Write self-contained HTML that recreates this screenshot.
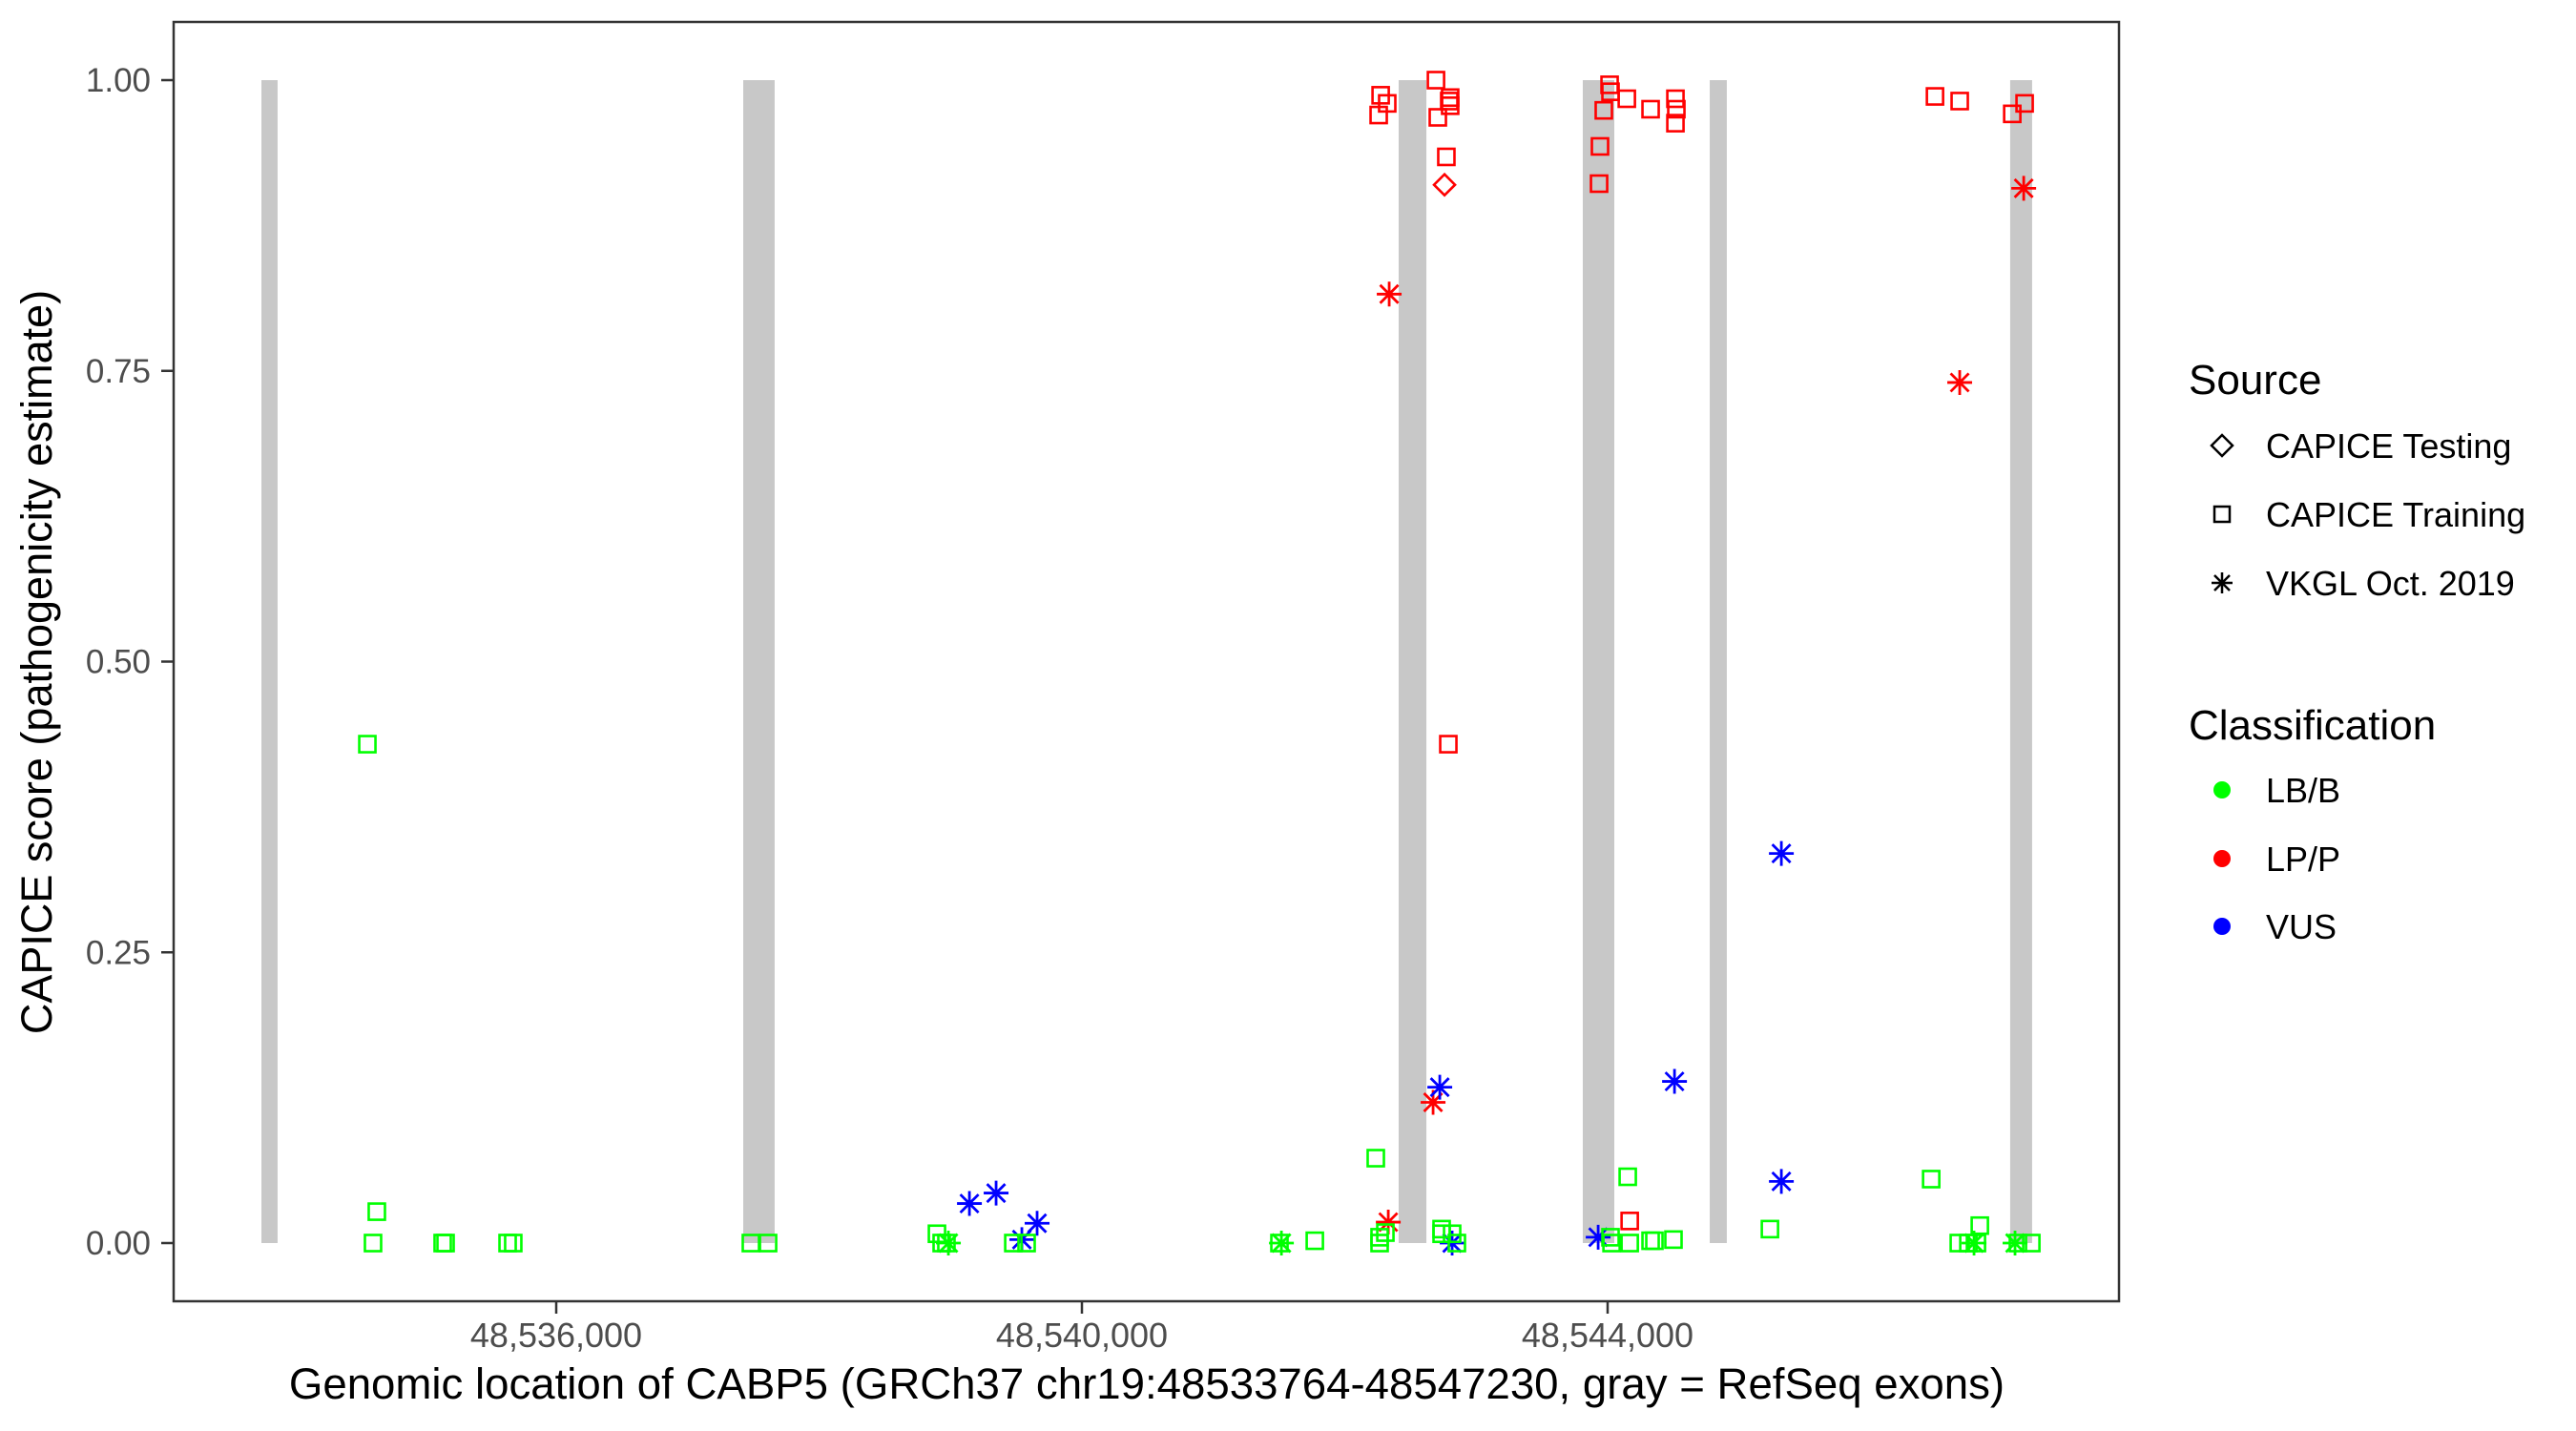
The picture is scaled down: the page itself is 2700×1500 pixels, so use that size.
<!DOCTYPE html>
<html><head><meta charset="utf-8"><style>
html,body{margin:0;padding:0;background:#fff;}
svg{display:block;font-family:"Liberation Sans",Arial,sans-serif;}
</style></head><body>
<svg id="chart" width="2700" height="1500" viewBox="0 0 2700 1500">
<rect x="0" y="0" width="2700" height="1500" fill="#fff"/>
<g id="exons"></g>
<g id="points"></g>
<rect x="182" y="23" width="2039" height="1341" fill="none" stroke="#333" stroke-width="2.5"/>
<g id="yaxis"></g>
<g id="xaxis"></g>
<text x="1202" y="1466" text-anchor="middle" font-size="45.6" fill="#000">Genomic location of CABP5 (GRCh37 chr19:48533764-48547230, gray = RefSeq exons)</text>
<text transform="translate(54,694) rotate(-90)" text-anchor="middle" font-size="45" fill="#000">CAPICE score (pathogenicity estimate)</text>
<g>
<text x="2294" y="413" font-size="44" fill="#000">Source</text>
<g>
<path d="M2329 456 L2340 467 L2329 478 L2318 467 Z" fill="none" stroke="#000" stroke-width="2.5"/>
<text x="2375" y="480" font-size="36" fill="#000">CAPICE Testing</text></g>
<g>
<rect x="2321" y="531" width="16" height="16" fill="none" stroke="#000" stroke-width="2.5"/>
<text x="2375" y="552" font-size="36" fill="#000">CAPICE Training</text></g>
<g>
<path d="M2318 611 H2340 M2329 600 V622 M2321 603 L2337 619 M2337 603 L2321 619" stroke="#000" stroke-width="2.5"/>
<text x="2375" y="624" font-size="36" fill="#000">VKGL Oct. 2019</text></g>
<text x="2294" y="775" font-size="44" fill="#000">Classification</text>
<g><circle cx="2329" cy="828" r="9" fill="#00ff00"/><text x="2375" y="841" font-size="36" fill="#000">LB/B</text></g>
<g><circle cx="2329" cy="900" r="9" fill="#ff0000"/><text x="2375" y="913" font-size="36" fill="#000">LP/P</text></g>
<g><circle cx="2329" cy="971" r="9" fill="#0000ff"/><text x="2375" y="984" font-size="36" fill="#000">VUS</text></g>
</g>
</svg>
<script>
const exonStarts = [48533757, 48537423, 48542410, 48543811, 48544777, 48547063];
const exonEnds   = [48533880, 48537662, 48542621, 48544051, 48544907, 48547230];
const xTicks = [48536000, 48540000, 48544000];
const xTickLabels = ["48,536,000", "48,540,000", "48,544,000"];
const yTicks = [0, 0.25, 0.5, 0.75, 1];
const yTickLabels = ["0.00", "0.25", "0.50", "0.75", "1.00"];
// Variant positions, CAPICE scores, source (S=training,T=testing,V=VKGL), class (G=LB/B,R=LP/P,B=VUS)
const positions = [
48534563,48534635,48534606,48535136,48535158,48535630,48535673,48537481,48537612,48538897,48538933,48538969,48538984,48539144,48539347,48539543,48539659,48539478,48539579,48541503,48541518,48541772,
48542273,48542258,48542323,48542694,48542708,48542795,48542802,48542802,48542773,48542788,48542759,48542338,48542672,48542331,48542723,48542817,48542236,48542265,48542265,48542309,48542737,48542737,48542817,48542853,
48544015,48544022,48543971,48543942,48543935,48544146,48544327,48544516,48544523,48544516,48544168,48543928,48544509,48545322,48545322,48544153,48544030,48544022,48544168,48544327,48544356,48544501,48545235,
48546491,48546679,48547079,48547173,48546679,48547166,48546462,48546832,48546672,48546745,48546810,48546788,48547100,48547122,48547224];
const scores = [
0.429,0.027,0,0,0,0,0,0,0,0.008,0,0,0,0.034,0.043,0.003,0.017,0,0,0,0,0.002,
0.987,0.970,0.980,1.0,0.968,0.982,0.978,0.985,0.934,0.429,0.910,0.816,0.121,0.018,0.134,0,0.073,0.005,0,0.009,0.008,0.012,0.008,0,
0.996,0.990,0.974,0.943,0.911,0.984,0.975,0.984,0.975,0.963,0.019,0.005,0.139,0.335,0.053,0.057,0,0.005,0,0.002,0.002,0.003,0.012,
0.986,0.982,0.971,0.980,0.740,0.907,0.055,0.015,0,0,0,0,0,0,0];
const sources = ("SSSSSSSSSSSSVVVVVSSSVS" + "SSSSSSSSSSTVVVVVSSSSSSSS" + "SSSSSSSSSSSVVVVSSSSSSSS" + "SSSSVVSSSSSVVSS").split("");
const classes = ("GGGGGGGGGGGGGBBBBGGGGG" + "RRRRRRRRRRRRRRBBGGGGGGGG" + "RRRRRRRRRRRBBBBGGGGGGGG" + "RRRRRRGGGGGGGGG").split("");
</script>
<script>
const NS="http://www.w3.org/2000/svg";
const X0=583, XS=551/4000, Y0=1303, YS=1219;
function xs(g){return X0+(g-48536000)*XS;}
function ys(v){return Y0-v*YS;}
function mk(tag,attrs,parent){const e=document.createElementNS(NS,tag);for(const k in attrs)e.setAttribute(k,attrs[k]);parent.appendChild(e);return e;}
const ex=document.getElementById('exons');
exonStarts.forEach((s,i)=>{
  const r=mk('rect',{x:xs(s),y:ys(1),width:xs(exonEnds[i])-xs(s),height:ys(0)-ys(1),fill:'#c8c8c8'},ex);
  
  
});
const ya=document.getElementById('yaxis');
yTicks.forEach((t,i)=>{
  const y=ys(t);
  const l=mk('line',{x1:169,x2:182,y1:y,y2:y,stroke:'#333','stroke-width':2.5},ya);
  
  
  const tx=mk('text',{x:158,y:y+12,'text-anchor':'end','font-size':35,fill:'#4d4d4d'},ya);
  tx.textContent=yTickLabels[i];
  
  
});
const xa=document.getElementById('xaxis');
xTicks.forEach((t,i)=>{
  const x=xs(t);
  const l=mk('line',{x1:x,x2:x,y1:1364,y2:1377,stroke:'#333','stroke-width':2.5},xa);
  
  
  const tx=mk('text',{x:x,y:1412,'text-anchor':'middle','font-size':36,fill:'#4d4d4d'},xa);
  tx.textContent=xTickLabels[i];
  
  
});
const colors={G:'#00ff00',R:'#ff0000',B:'#0000ff'};
const pg=document.getElementById('points');
positions.forEach((p,i)=>{
  const x=xs(p), y=ys(scores[i]), c=colors[classes[i]], s=sources[i];
  let e;
  if(s==='S'){e=mk('rect',{x:x-8.5,y:y-8.5,width:17,height:17,fill:'none',stroke:c,'stroke-width':2.6},pg);}
  else if(s==='T'){e=mk('path',{d:`M${x} ${y-11} L${x+11} ${y} L${x} ${y+11} L${x-11} ${y} Z`,fill:'none',stroke:c,'stroke-width':2.6},pg);}
  else {e=mk('path',{d:`M${x-13} ${y} H${x+13} M${x} ${y-13} V${y+13} M${x-9.5} ${y-9.5} L${x+9.5} ${y+9.5} M${x+9.5} ${y-9.5} L${x-9.5} ${y+9.5}`,stroke:c,'stroke-width':2.8},pg);}
  
  
});
</script>
</body></html>
